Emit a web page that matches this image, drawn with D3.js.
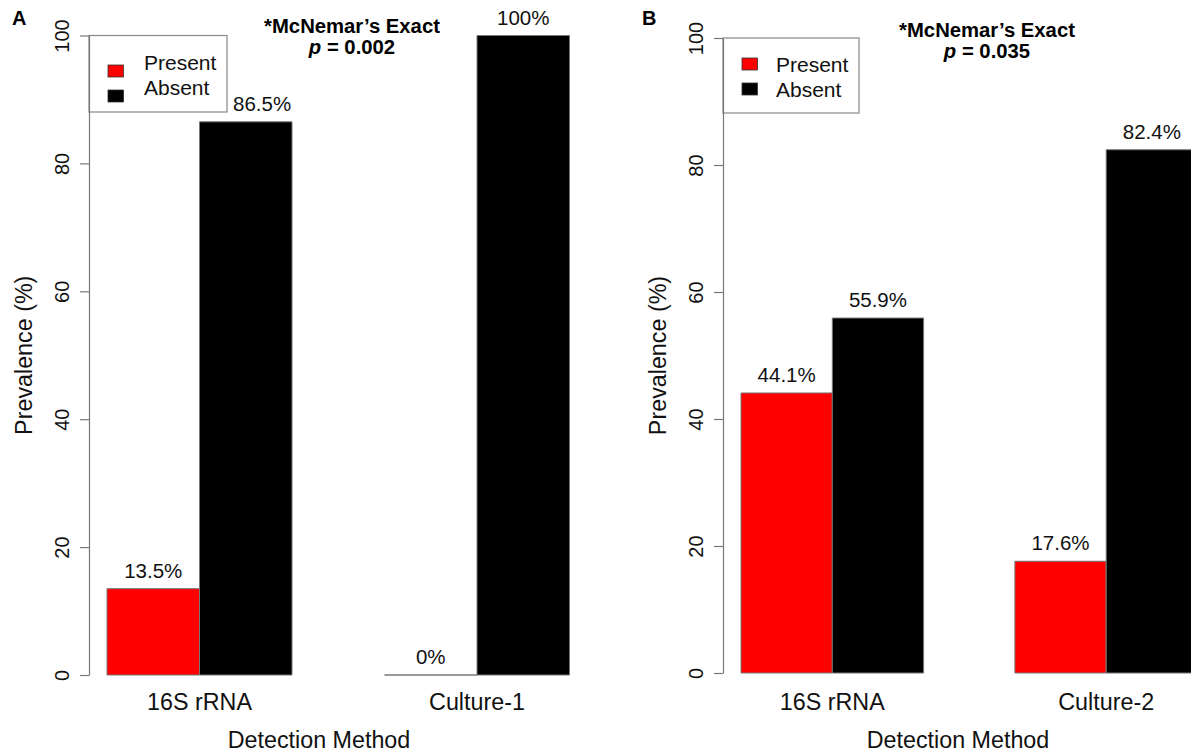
<!DOCTYPE html>
<html>
<head>
<meta charset="utf-8">
<script src="https://cdn.jsdelivr.net/npm/d3@7"></script>
<style>
  html, body { margin: 0; padding: 0; background: #fff; }
  svg { display: block; font-family: "Liberation Sans", Arial, Helvetica, sans-serif; }
</style>
</head>
<body>
<svg id="chart" width="1191" height="755"></svg>
<script>
// Prevalence by detection method (%), panels A and B
const methodsA = ["16S rRNA", "Culture-1"];
const presentA = [13.5, 0];
const absentA = [86.5, 100];

const methodsB = ["16S rRNA", "Culture-2"];
const presentB = [44.1, 17.6];
const absentB = [55.9, 82.4];

const statusLabels = ["Present", "Absent"];
const statusColors = ["#ff0000", "#000000"];
const yTicks = [0, 20, 40, 60, 80, 100];
const panelLetters = ["A", "B"];
const pValues = ["0.002", "0.035"];
const testName = "*McNemar\u2019s Exact";
const yTitle = "Prevalence (%)";
const xTitle = "Detection Method";

// Panel layout (pixels)
const panels = [
  { letter: panelLetters[0], methods: methodsA, series: [presentA, absentA], p: pValues[0],
    axisX: 89, yBottom: 675, yTop: 35.5, barStart: 107, unit: 92.5,
    letterX: 12, titleX: 352, titleY: 33, xTitleX: 319,
    legend: { x1: 89, x2: 227, y1: 35.5, y2: 112, boxX: 108, boxY: 65, textX: 144, textY: 70 } },
  { letter: panelLetters[1], methods: methodsB, series: [presentB, absentB], p: pValues[1],
    axisX: 723, yBottom: 673, yTop: 38, barStart: 741, unit: 91.3,
    letterX: 642, titleX: 987, titleY: 37, xTitleX: 958,
    legend: { x1: 723, x2: 859, y1: 38, y2: 113, boxX: 742, boxY: 58, textX: 776, textY: 72 } }
];

const svg = d3.select("#chart");
svg.append("rect").attr("width", 1191).attr("height", 755).attr("fill", "#fff");

const labelSize = 20.5;

panels.forEach(pn => {
  const g = svg.append("g");
  const y = d3.scaleLinear().domain([0, 100]).range([pn.yBottom, pn.yTop]);
  // bar slots: group gi, series si -> slot 1 + 3*gi + si (one empty slot between groups)
  const x = d3.scaleLinear().domain([1, 2]).range([pn.barStart, pn.barStart + pn.unit]);

  const bars = [];
  pn.methods.forEach((m, gi) => {
    pn.series.forEach((vals, si) => {
      const slot = 1 + 3 * gi + si;
      bars.push({ method: m, gi, si, value: vals[gi], x0: x(slot), x1: x(slot + 1) });
    });
  });

  // legend (drawn first so value labels sit above it)
  const L = pn.legend;
  g.append("rect")
    .attr("x", L.x1).attr("y", L.y1)
    .attr("width", L.x2 - L.x1).attr("height", L.y2 - L.y1)
    .attr("fill", "#fff").attr("stroke", "#888").attr("stroke-width", 1.2);
  const li = g.selectAll("g.leg").data(statusLabels).enter().append("g").attr("class", "leg");
  li.append("rect")
    .attr("x", L.boxX).attr("y", (d, i) => L.boxY + i * 25)
    .attr("width", 15.5).attr("height", 12)
    .attr("fill", (d, i) => statusColors[i])
    .attr("stroke", "#333").attr("stroke-width", 0.8);
  li.append("text")
    .attr("x", L.textX).attr("y", (d, i) => L.textY + i * 25)
    .attr("font-size", 21)
    .attr("fill", "#111")
    .text(d => d);

  // bars as closed paths so zero-height bars still show their outline
  g.selectAll("path.bar").data(bars).enter().append("path")
    .attr("class", "bar")
    .attr("d", d => {
      const p = d3.path();
      p.moveTo(d.x0, y(0));
      p.lineTo(d.x1, y(0));
      p.lineTo(d.x1, y(d.value));
      p.lineTo(d.x0, y(d.value));
      p.closePath();
      return p.toString();
    })
    .attr("fill", d => statusColors[d.si])
    .attr("stroke", "#777")
    .attr("stroke-width", 1);

  // value labels; nudged right when they would run into the legend box
  g.selectAll("text.val").data(bars).enter().append("text")
    .attr("class", "val")
    .attr("y", d => y(d.value) - 11)
    .attr("text-anchor", "start")
    .attr("font-size", labelSize)
    .attr("fill", "#111")
    .text(d => d.value + "%")
    .each(function (d) {
      const w = this.getComputedTextLength();
      let left = (d.x0 + d.x1) / 2 - w / 2;
      const top = y(d.value) - 11 - labelSize;
      if (top < L.y2 && left < L.x2 + 6) left = L.x2 + 6;
      d3.select(this).attr("x", left);
    });

  // category names
  g.selectAll("text.cat").data(pn.methods).enter().append("text")
    .attr("class", "cat")
    .attr("x", (m, gi) => (x(1 + 3 * gi) + x(3 + 3 * gi)) / 2)
    .attr("y", 710)
    .attr("text-anchor", "middle")
    .attr("font-size", 23.3)
    .attr("fill", "#111")
    .text(m => m);

  // y axis
  const axis = d3.axisLeft(y).tickValues(yTicks).tickSize(9).tickSizeOuter(0).tickFormat(d3.format("d"));
  const ag = g.append("g").attr("transform", `translate(${pn.axisX},0)`).call(axis);
  ag.select(".domain").attr("stroke", "#777").attr("stroke-width", 1.2);
  ag.selectAll(".tick line").attr("stroke", "#777").attr("stroke-width", 1.2);
  ag.selectAll(".tick text")
    .attr("x", null).attr("dy", null)
    .attr("transform", "translate(-20,0) rotate(-90)")
    .attr("text-anchor", "middle")
    .attr("font-size", 20)
    .attr("font-family", "Liberation Sans, Arial, sans-serif")
    .attr("fill", "#111");

  // axis titles
  g.append("text")
    .attr("transform", `translate(${pn.axisX - 57},${(pn.yBottom + pn.yTop) / 2}) rotate(-90)`)
    .attr("text-anchor", "middle")
    .attr("font-size", 23.3)
    .attr("fill", "#111")
    .text(yTitle);
  g.append("text")
    .attr("x", pn.xTitleX).attr("y", 748)
    .attr("text-anchor", "middle")
    .attr("font-size", 23.3)
    .attr("fill", "#111")
    .text(xTitle);

  // panel letter
  g.append("text")
    .attr("x", pn.letterX).attr("y", 25)
    .attr("font-size", 20).attr("font-weight", "bold")
    .text(pn.letter);

  // test annotation
  g.append("text")
    .attr("x", pn.titleX).attr("y", pn.titleY)
    .attr("text-anchor", "middle")
    .attr("font-size", 20.3).attr("font-weight", "bold")
    .text(testName);
  const pt = g.append("text")
    .attr("x", pn.titleX).attr("y", pn.titleY + 21)
    .attr("text-anchor", "middle")
    .attr("font-size", 20.3).attr("font-weight", "bold");
  pt.append("tspan").attr("font-style", "italic").text("p");
  pt.append("tspan").text(" = " + pn.p);
});
</script>
</body>
</html>
